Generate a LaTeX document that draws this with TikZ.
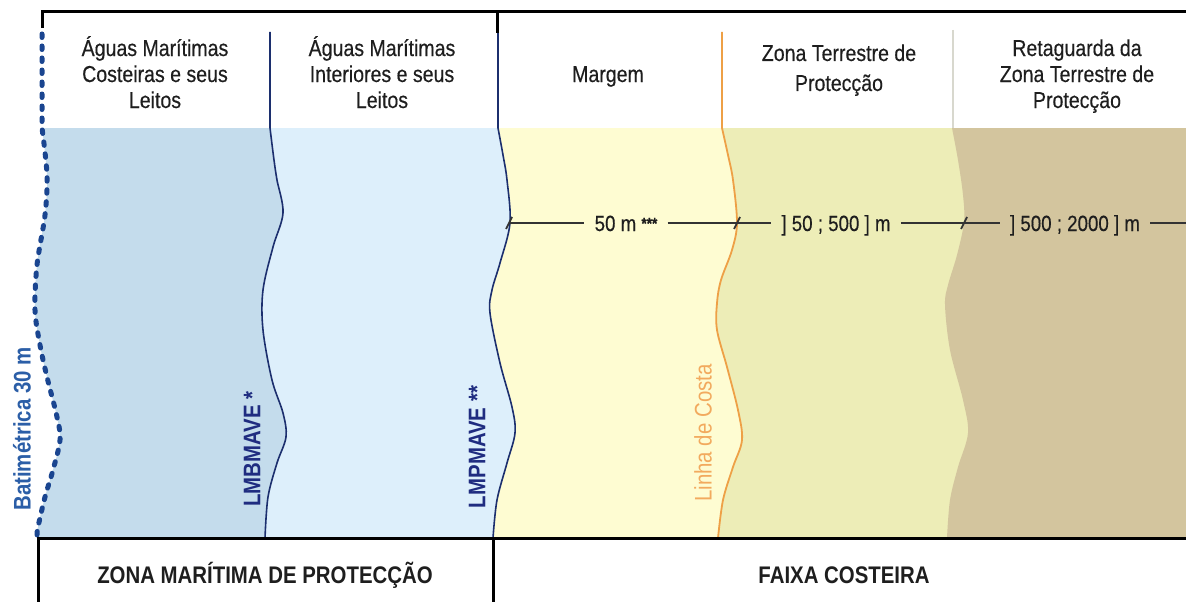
\documentclass[tikz,border=0pt]{standalone}
\usepackage{fontspec}
\setmainfont{Liberation Sans}[FakeStretch=0.85]
\newfontfamily\hdrfont{Liberation Sans}[FakeStretch=0.85,FakeBold=0.35]
\definecolor{wateroutA}{HTML}{C4DCEC}
\definecolor{waterinB}{HTML}{DDEFFB}
\definecolor{margemC}{HTML}{FEFCD2}
\definecolor{terrD}{HTML}{EDEDB7}
\definecolor{retagE}{HTML}{D3C59E}
\definecolor{navyln}{HTML}{1C2F6E}
\definecolor{navytx}{HTML}{1F2C80}
\definecolor{battx}{HTML}{2B5EA7}
\definecolor{batln}{HTML}{1A4590}
\definecolor{orln}{HTML}{EEA046}
\definecolor{ortx}{HTML}{F2AA5E}
\definecolor{grydiv}{HTML}{D8D8CE}
\definecolor{txt}{HTML}{1E1E1E}
\begin{document}
\begin{tikzpicture}[x=1pt,y=-1pt,
  blk/.style={line width=3pt,black},
  navyline/.style={line width=1.6pt,navyln},
  orline/.style={line width=1.8pt,orln},
  batline/.style={line width=5pt,batln,line cap=round,dash pattern=on 3.5pt off 8.5pt},
  hdr/.style={font=\hdrfont\fontsize{23}{26}\selectfont,align=center,text=txt,inner sep=0pt},
  botlbl/.style={font=\fontsize{24}{28}\selectfont\bfseries,text=txt,inner sep=0pt},
  meas/.style={font=\hdrfont\fontsize{22}{24}\selectfont,text=txt,inner xsep=10pt,inner ysep=0pt},
  measline/.style={line width=1.8pt,black!80},
  rotlbl/.style={rotate=90,inner sep=0pt,font=\fontsize{24}{28}\selectfont\bfseries}
]
\useasboundingbox[fill=white] (0,0) rectangle (1186,602);

% ---- zone fills (left to right, each overlaying the previous) ----
\fill[wateroutA] plot[smooth,tension=0.55] coordinates {(42,128) (47,175) (45,215) (37,265) (35,310) (40,345) (47,377) (57,417) (60,440) (53,470) (45,497) (38,527) (37,538)} -- (1186,538) -- (1186,128) -- cycle;
\fill[waterinB] plot[smooth,tension=0.55] coordinates {(270,128) (274,160) (277,180) (283,213) (273,247) (263,290) (263,330) (272,380) (283,413) (286,437) (277,463) (268,497) (265,538)} -- (1186,538) -- (1186,128) -- cycle;
\fill[margemC] plot[smooth,tension=0.55] coordinates {(498,128) (503,155) (507,180) (510,223) (500,263) (492,290) (490,313) (500,363) (512,407) (515,433) (507,463) (497,500) (493,538)} -- (1186,538) -- (1186,128) -- cycle;
\fill[terrD] plot[smooth,tension=0.55] coordinates {(722,128) (728,155) (733,180) (737,223) (732,250) (721,280) (717,303) (717,330) (727,367) (738,410) (742,440) (733,467) (723,500) (718,538)} -- (1186,538) -- (1186,128) -- cycle;
\fill[retagE] plot[smooth,tension=0.55] coordinates {(952,128) (958,160) (963,195) (964,222) (957,255) (948,285) (945,305) (950,350) (963,400) (968,433) (958,467) (950,500) (947,538)} -- (1186,538) -- (1186,128) -- cycle;

% ---- boundary lines ----
\draw[batline] (42,34) -- plot[smooth,tension=0.55] coordinates {(42,128) (47,175) (45,215) (37,265) (35,310) (40,345) (47,377) (57,417) (60,440) (53,470) (45,497) (38,527) (37,535)};
\draw[navyline] (270,32) -- plot[smooth,tension=0.55] coordinates {(270,128) (274,160) (277,180) (283,213) (273,247) (263,290) (263,330) (272,380) (283,413) (286,437) (277,463) (268,497) (265,538)};
\draw[navyline] (498,32) -- plot[smooth,tension=0.55] coordinates {(498,128) (503,155) (507,180) (510,223) (500,263) (492,290) (490,313) (500,363) (512,407) (515,433) (507,463) (497,500) (493,538)};
\draw[orline] (722,32) -- plot[smooth,tension=0.55] coordinates {(722,128) (728,155) (733,180) (737,223) (732,250) (721,280) (717,303) (717,330) (727,367) (738,410) (742,440) (733,467) (723,500) (718,538)};
\draw[grydiv,line width=1.2pt] (953,30) -- (953,128);

% ---- frame ----
\draw[blk] (42,28) -- (42,12) -- (1186,12);
\draw[blk] (497,12) -- (497,33);
\draw[blk] (38,602) -- (38,538) -- (1186,538);
\draw[blk] (493,538) -- (493,602);

% ---- headers (base anchor = baseline of last line) ----
\node[hdr,anchor=base] (h1) at (155,108) {Águas Marítimas\\Costeiras e seus\\Leitos};
\node[hdr,anchor=base] (h2) at (382,108) {Águas Marítimas\\Interiores e seus\\Leitos};
\node[hdr,anchor=base] (h3) at (608,82) {Margem};
\node[hdr,anchor=base,font=\hdrfont\fontsize{23}{30}\selectfont] (h4) at (839,91) {Zona Terrestre de\\Protecção};
\node[hdr,anchor=base] (h5) at (1077,108) {Retaguarda da\\Zona Terrestre de\\Protecção};

% ---- measurement line ----
\coordinate (t1) at (509,223);
\coordinate (t2) at (737,223);
\coordinate (t3) at (964,223);
\coordinate (rend) at (1186,223);
\node[meas,anchor=base] (m1) at (626,231) {50 m {\fontsize{16}{16}\selectfont\bfseries\raisebox{2pt}{***}}};
\node[meas,anchor=base] (m2) at (836,231) {] 50 ; 500 ] m};
\node[meas,anchor=base] (m3) at (1075,231) {] 500 ; 2000 ] m};
\draw[measline] (t1) -- (t1 -| m1.west);
\draw[measline] (t1 -| m1.east) -- (t2) -- (t2 -| m2.west);
\draw[measline] (t2 -| m2.east) -- (t3) -- (t3 -| m3.west);
\draw[measline] (t3 -| m3.east) -- (rend);
\foreach \t in {t1,t2,t3}
  \draw[measline] ([shift={(-3,6)}]\t) -- ([shift={(3,-6)}]\t);

% ---- rotated labels ----
\node[rotlbl,text=battx] (bat) at (22,429) {Batimétrica 30 m};
\node[rotlbl,text=navytx] (lmb) at (252,449) {LMBMAVE *};
\node[rotlbl,text=navytx] (lmp) at (477,447) {LMPMAVE **};
\node[rotlbl,text=ortx,font=\fontsize{24}{28}\selectfont] (costa) at (703,433) {Linha de Costa};

% ---- bottom labels ----
\node[botlbl,anchor=base] (zmp) at (265,583) {ZONA MARÍTIMA DE PROTECÇÃO};
\node[botlbl,anchor=base] (fc) at (844,583) {FAIXA COSTEIRA};
\end{tikzpicture}
\end{document}
